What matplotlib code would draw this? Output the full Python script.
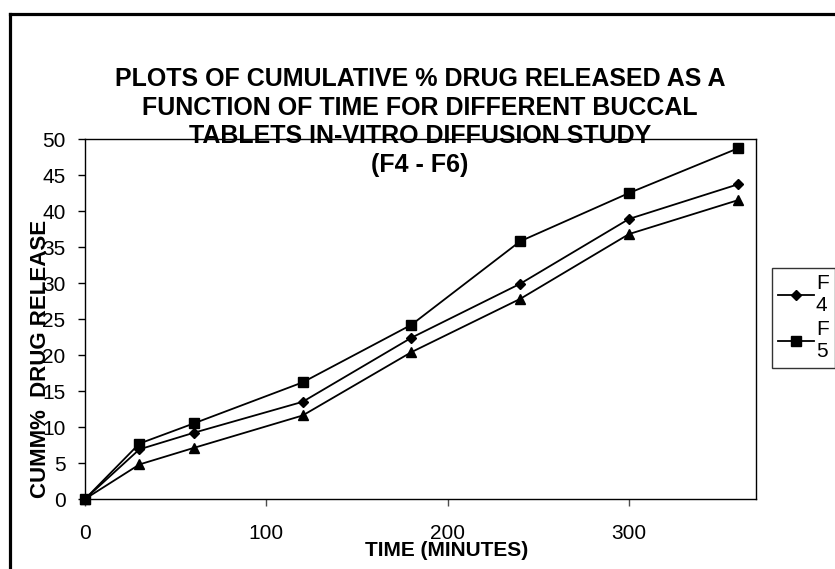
import matplotlib.pyplot as plt
from matplotlib.lines import Line2D

plt.rcParams['font.family'] = ['Liberation Sans', 'DejaVu Sans']

# data
time_min = [0, 30, 60, 120, 180, 240, 300, 360]
f4 = [0, 6.9, 9.2, 13.5, 22.4, 29.9, 38.9, 43.7]
f5 = [0, 7.7, 10.5, 16.2, 24.2, 35.8, 42.5, 48.7]
f6 = [0, 4.8, 7.1, 11.6, 20.4, 27.8, 36.8, 41.5]

fig = plt.figure(figsize=(8.35, 5.69), dpi=100)
ax = fig.add_axes([0.1018, 0.123, 0.8036, 0.6327])

ax.plot(time_min, f4, "k-", marker="D", ms=5, lw=1.3, label="F\n4", clip_on=False)
ax.plot(time_min, f5, "k-", marker="s", ms=7, lw=1.3, label="F\n5", clip_on=False)
ax.plot(time_min, f6, "k-", marker="^", ms=7, lw=1.3, clip_on=False)

ax.set_xlim(0, 370)
ax.set_ylim(0, 50)
ax.set_xticks([0, 100, 200, 300])
ax.set_yticks(range(0, 51, 5))
ax.tick_params(axis="x", direction="out", length=5, width=1, pad=13, labelsize=15, color="0.3")
ax.tick_params(axis="y", direction="out", length=5, width=1, pad=9, labelsize=15)
for s in ax.spines.values():
    s.set_linewidth(1)

leg = ax.legend(loc="upper left", bbox_to_anchor=(772 / 835, 1 - 268 / 569),
                bbox_transform=fig.transFigure, fontsize=15, handlelength=1.7,
                handletextpad=0.1, borderpad=0.3, borderaxespad=0, labelspacing=0.25,
                fancybox=False, frameon=True)
leg.get_frame().set_edgecolor("black")
leg.get_frame().set_linewidth(1)

fig.text(0.503, 1 - 122 / 569,
         "PLOTS OF CUMULATIVE % DRUG RELEASED AS A\nFUNCTION OF TIME FOR DIFFERENT BUCCAL\n"
         "TABLETS IN-VITRO DIFFUSION STUDY\n(F4 - F6)",
         ha="center", va="center", fontsize=18, fontweight="bold", linespacing=1.25)
fig.text(41 / 835, 1 - 359 / 569, "CUMM%  DRUG RELEASE", rotation=90,
         ha="center", va="center", fontsize=16, fontweight="bold")
fig.text(447 / 835, 1 - 550 / 569, "TIME (MINUTES)", ha="center", va="center",
         fontsize=15, fontweight="bold")

# outer frame (top and left only visible)
fig.add_artist(Line2D([9.5 / 835, 1.0], [1 - 13.5 / 569] * 2, transform=fig.transFigure,
                      color="black", lw=2.3))
fig.add_artist(Line2D([9.5 / 835] * 2, [0, 1 - 13.5 / 569], transform=fig.transFigure,
                      color="black", lw=2.3))

fig.savefig("out.png", dpi=100)
